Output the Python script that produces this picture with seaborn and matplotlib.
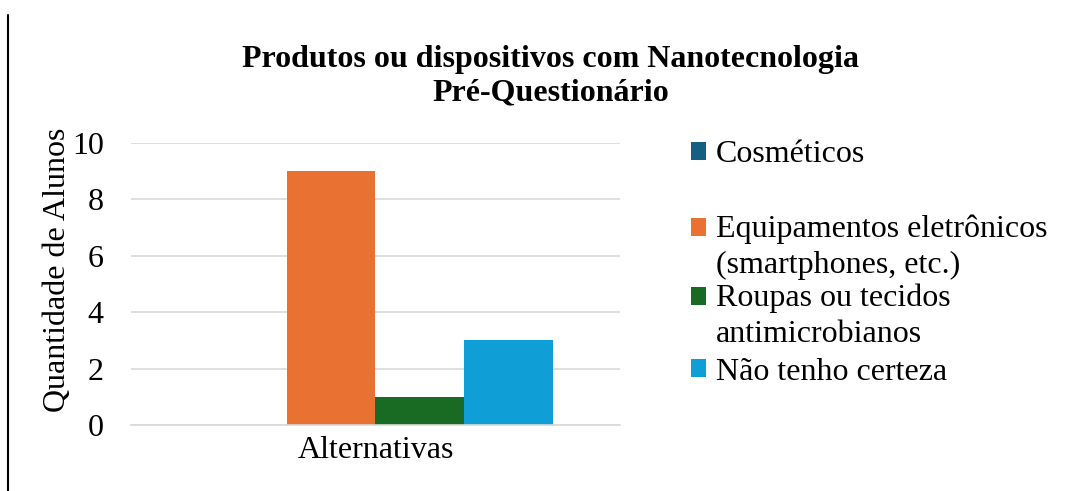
import pandas as pd
import matplotlib.pyplot as plt
import seaborn as sns
from matplotlib.patches import Patch, Rectangle
from matplotlib.lines import Line2D
from matplotlib.legend_handler import HandlerPatch

# dados do gráfico
categorias = ["Alternativas"]
series = ["Cosméticos", "Equipamentos eletrônicos\n(smartphones, etc.)",
          "Roupas ou tecidos\nantimicrobianos", "Não tenho certeza"]
valores = [0, 9, 1, 3]
cores = ["#156082", "#E97132", "#196B24", "#0F9ED5"]

df = pd.DataFrame({"categoria": categorias * len(series), "serie": series, "valor": valores})

FS = 23


class HandleNaPrimeiraLinha(HandlerPatch):
    # no Excel o quadradinho fica alinhado com a primeira linha do texto
    def __init__(self, desloc):
        super().__init__()
        self.desloc = desloc

    def create_artists(self, legend, orig_handle, xdescent, ydescent, width, height, fontsize, trans):
        p = Rectangle((-xdescent, -ydescent + self.desloc), width, height,
                      facecolor=orig_handle.get_facecolor(), edgecolor="none", transform=trans)
        return [p]


sns.set_style("white")
plt.rcParams["font.family"] = ["Liberation Serif", "DejaVu Serif"]
plt.rcParams["text.color"] = "black"
plt.rcParams["xtick.color"] = "black"
plt.rcParams["ytick.color"] = "black"
plt.rcParams["axes.labelcolor"] = "black"

fig = plt.figure(figsize=(10.76, 4.91), dpi=100)
ax = fig.add_axes([0.1217, 0.1344, 0.4545, 0.5743])

sns.barplot(data=df, x="categoria", y="valor", hue="serie", palette=cores,
            width=0.724, legend=False, ax=ax, saturation=1, linewidth=0)

ax.set_xlim(-0.5, 0.5)
ax.set_ylim(0, 10)
ax.set_yticks(range(0, 11, 2))
ax.yaxis.grid(True, color="#d9d9d9", linewidth=1.2)
ax.set_axisbelow(True)
for s in ["left", "right", "top"]:
    ax.spines[s].set_visible(False)
ax.spines["bottom"].set_color("#d9d9d9")
ax.spines["bottom"].set_linewidth(1.2)
ax.tick_params(axis="y", length=0, pad=19.5, labelsize=FS)
ax.tick_params(axis="x", length=0, pad=8, labelsize=FS)
ax.set_xlabel("")
ax.set_ylabel("Quantidade de Alunos", fontsize=FS)
ax.yaxis.set_label_coords(-0.12, 0.55)

fig.text(551 / 1076, 1 - 76 / 491, "Produtos ou dispositivos com Nanotecnologia\nPré-Questionário",
         ha="center", va="center", fontsize=FS, fontweight="bold", linespacing=1.22)

# legenda, uma entrada de cada vez (espaçamento como no Excel)
posicoes_y = [155, 247, 316, 372]
for nome, cor, py in zip(series, cores, posicoes_y):
    n_linhas = nome.count("\n") + 1
    desloc = 0.61 * FS * (n_linhas - 1)
    leg = fig.legend(handles=[Patch(color=cor)], labels=[nome], loc="center left",
                     bbox_to_anchor=(691 / 1076, 1 - py / 491), frameon=False,
                     fontsize=FS, handlelength=0.47, handleheight=0.47, handletextpad=0.3,
                     borderpad=0, borderaxespad=0,
                     handler_map={Patch: HandleNaPrimeiraLinha(desloc)})
    for t in leg.get_texts():
        t.set_linespacing(1.32)

fig.add_artist(Line2D([8 / 1076, 8 / 1076], [0, 1 - 15 / 491], color="black", linewidth=1.5))

fig.savefig("out.png", dpi=100)
